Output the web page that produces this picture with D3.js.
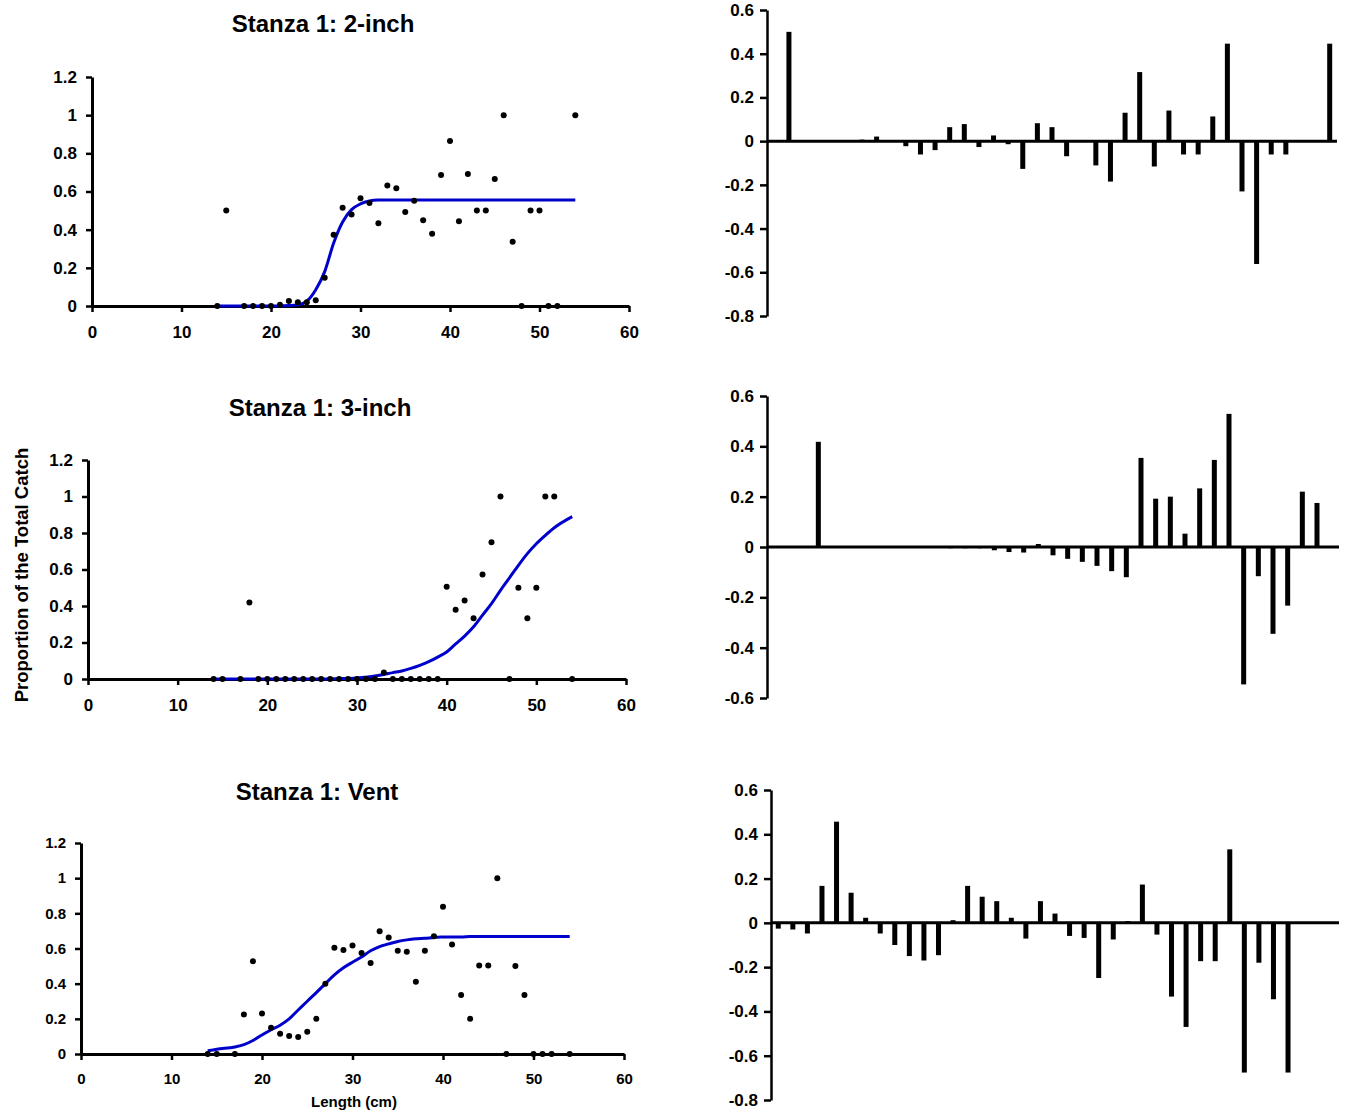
<!DOCTYPE html>
<html>
<head>
<meta charset="utf-8">
<script src="https://cdn.jsdelivr.net/npm/d3@7"></script>
<style>
  body { margin: 0; background: #fff; }
  svg { display: block; font-family: "Liberation Sans", Arial, sans-serif; font-weight: bold; }
</style>
</head>
<body>
<div id="chart"></div>
<script>
// lengths (cm) - 16 and 53 have no rows
const lengths = [14, 15, 17, 18, 19, 20, 21, 22, 23, 24, 25, 26, 27, 28, 29, 30, 31, 32, 33, 34,
  35, 36, 37, 38, 39, 40, 41, 42, 43, 44, 45, 46, 47, 48, 49, 50, 51, 52, 54];

// 2-inch
const obs2in = [0, 0.5, 0, 0, 0, 0, 0.007, 0.026, 0.02, 0.02, 0.03, 0.148, 0.374, 0.515, 0.48, 0.564, 0.54, 0.433, 0.632, 0.617,
  0.493, 0.552, 0.449, 0.379, 0.686, 0.865, 0.444, 0.692, 0.5, 0.5, 0.666, 1, 0.337, 0, 0.5, 0.5, 0, 0, 1];
const fit2in = [0, 0, 0, 0, 0, 0, 0, 0.002, 0.006, 0.025, 0.085, 0.18, 0.33, 0.44, 0.505, 0.535, 0.55, 0.555, 0.556, 0.556,
  0.556, 0.556, 0.556, 0.556, 0.556, 0.556, 0.556, 0.556, 0.556, 0.556, 0.556, 0.556, 0.556, 0.556, 0.556, 0.556, 0.556, 0.556, 0.556];
const res2in = [0, 0.5, 0, 0, 0, 0, 0.007, 0.021, 0, -0.023, -0.061, -0.041, 0.064, 0.078, -0.027, 0.026, -0.014, -0.127, 0.082, 0.064,
  -0.069, -0.004, -0.111, -0.185, 0.13, 0.316, -0.116, 0.14, -0.061, -0.061, 0.113, 0.446, -0.23, -0.562, -0.061, -0.061, null, null, 0.446];

// 3-inch
const obs3in = [0, 0, 0, 0.419, 0, 0, 0, 0, 0, 0, 0, 0, 0, 0, 0, 0, 0, 0, 0.036, 0,
  0, 0, 0, 0, 0, 0.505, 0.379, 0.43, 0.333, 0.572, 0.75, 1, 0, 0.5, 0.333, 0.5, 1, 1, 0];
const fit3in = [0, 0, 0, 0, 0, 0, 0, 0, 0, 0, 0, 0, 0.001, 0.002, 0.003, 0.005, 0.01, 0.016, 0.025, 0.035,
  0.044, 0.058, 0.075, 0.095, 0.12, 0.148, 0.192, 0.235, 0.286, 0.35, 0.413, 0.486, 0.554, 0.623, 0.687, 0.741, 0.787, 0.829, 0.89];
const res3in = [null, null, null, 0.418, null, null, null, null, null, null, null, null, -0.005, -0.005, -0.005, -0.013, -0.02, -0.022, 0.012, -0.033,
  -0.047, -0.059, -0.075, -0.096, -0.12, 0.354, 0.192, 0.2, 0.053, 0.233, 0.346, 0.529, -0.546, -0.116, -0.345, -0.233, 0.22, 0.175, null];

// Vent
const obsVent = [0, 0, 0, 0.225, 0.528, 0.23, 0.149, 0.115, 0.102, 0.096, 0.126, 0.2, 0.4, 0.604, 0.592, 0.617, 0.575, 0.517, 0.698, 0.662,
  0.587, 0.581, 0.411, 0.587, 0.67, 0.838, 0.623, 0.336, 0.2, 0.504, 0.504, 1, 0, 0.5, 0.336, 0, 0, 0, 0];
const fitVent = [0.018, 0.027, 0.04, 0.053, 0.077, 0.108, 0.138, 0.164, 0.2, 0.25, 0.3, 0.349, 0.4, 0.45, 0.49, 0.522, 0.552, 0.587, 0.611, 0.626,
  0.64, 0.649, 0.655, 0.658, 0.663, 0.665, 0.666, 0.666, 0.668, 0.668, 0.668, 0.668, 0.668, 0.668, 0.668, 0.668, 0.668, 0.668, 0.668];
const resVent = [-0.026, -0.03, -0.048, 0.167, 0.457, 0.136, 0.023, -0.048, -0.1, -0.15, -0.17, -0.146, 0.012, 0.167, 0.118, 0.098, 0.023, -0.071, 0.098, 0.042,
  -0.059, -0.068, -0.249, -0.075, 0.008, 0.173, -0.053, -0.333, -0.47, -0.173, -0.173, 0.332, -0.676, -0.18, -0.345, -0.676, null, null, null];

const xTicks = [0, 10, 20, 30, 40, 50, 60];
const yTicks = [0, 0.2, 0.4, 0.6, 0.8, 1, 1.2];

const W = 1348, H = 1113;
const svg = d3.select('#chart').append('svg').attr('width', W).attr('height', H);

const fmt = d => String(+d.toFixed(1));

function fitPanel(cfg, title, obs, fit) {
  const g = svg.append('g');
  const x = d3.scaleLinear().domain([0, 60]).range([cfg.x0, cfg.x1]);
  const y = d3.scaleLinear().domain([0, 1.2]).range([cfg.yBot, cfg.yTop]);

  const xa = g.append('g').attr('transform', `translate(0,${cfg.yBot})`)
    .call(d3.axisBottom(x).tickValues(xTicks).tickFormat(fmt).tickSize(6).tickSizeOuter(0).tickPadding(cfg.xPad));
  const ya = g.append('g').attr('transform', `translate(${cfg.x0},0)`)
    .call(d3.axisLeft(y).tickValues(yTicks).tickFormat(fmt).tickSize(6).tickSizeOuter(0).tickPadding(9));
  [xa, ya].forEach(a => {
    a.select('.domain').attr('stroke', '#000').attr('stroke-width', 3);
    a.selectAll('.tick line').attr('stroke', '#000').attr('stroke-width', 2.5);
    a.selectAll('text').attr('fill', '#000').style('font-size', cfg.font + 'px').style('font-weight', 'bold');
  });

  const pts = lengths.map((l, i) => ({ l, o: obs[i], f: fit[i] }));
  g.append('path').datum(pts)
    .attr('fill', 'none').attr('stroke', '#0000cc').attr('stroke-width', 3)
    .attr('d', d3.line().x(d => x(d.l)).y(d => y(d.f)).curve(d3.curveMonotoneX));

  g.selectAll('circle').data(pts).enter().append('circle')
    .attr('cx', d => x(d.l)).attr('cy', d => y(d.o)).attr('r', 3).attr('fill', '#000');

  g.append('text').attr('x', cfg.tx).attr('y', cfg.ty).attr('text-anchor', 'middle')
    .attr('dominant-baseline', 'central').style('font-size', '24px').text(title);
}

function resPanel(cfg, res) {
  const g = svg.append('g');
  const x = d3.scaleBand().domain(lengths).range([cfg.x0, cfg.x1]);
  const y = d3.scaleLinear().domain(cfg.dom).range([cfg.yBot, cfg.yTop]);
  const ticks = d3.range(Math.round(cfg.dom[0] * 5), Math.round(cfg.dom[1] * 5) + 1).map(v => v / 5);

  const ya = g.append('g').attr('transform', `translate(${cfg.x0},0)`)
    .call(d3.axisLeft(y).tickValues(ticks).tickFormat(fmt).tickSize(7).tickSizeOuter(0).tickPadding(6));
  ya.select('.domain').attr('stroke', '#000').attr('stroke-width', 2.5);
  ya.selectAll('.tick line').attr('stroke', '#000').attr('stroke-width', 2.5);
  ya.selectAll('text').attr('fill', '#000').style('font-size', '17px').style('font-weight', 'bold');

  const bw = 5;
  g.selectAll('rect').data(lengths.map((l, i) => ({ l, v: res[i] })).filter(d => d.v != null))
    .enter().append('rect')
    .attr('x', d => x(d.l) + x.bandwidth() / 2 - bw / 2)
    .attr('width', bw)
    .attr('y', d => Math.min(y(d.v), y(0)))
    .attr('height', d => Math.abs(y(d.v) - y(0)))
    .attr('fill', '#000');

  g.append('line').attr('x1', cfg.x0).attr('x2', cfg.x1).attr('y1', y(0)).attr('y2', y(0))
    .attr('stroke', '#000').attr('stroke-width', 3);
}

fitPanel({ x0: 92, x1: 629, yTop: 77, yBot: 306, xPad: 14, font: 17, tx: 323, ty: 23 }, 'Stanza 1: 2-inch', obs2in, fit2in);
fitPanel({ x0: 88, x1: 626, yTop: 460, yBot: 679, xPad: 14, font: 17, tx: 320, ty: 407 }, 'Stanza 1: 3-inch', obs3in, fit3in);
fitPanel({ x0: 81, x1: 624, yTop: 843, yBot: 1054, xPad: 13, font: 15, tx: 317, ty: 791 }, 'Stanza 1: Vent', obsVent, fitVent);

resPanel({ x0: 767, x1: 1337, yTop: 10, yBot: 316, dom: [-0.8, 0.6] }, res2in);
resPanel({ x0: 767, x1: 1339, yTop: 396, yBot: 698, dom: [-0.6, 0.6] }, res3in);
resPanel({ x0: 771, x1: 1339, yTop: 790, yBot: 1100, dom: [-0.8, 0.6] }, resVent);

svg.append('text').attr('transform', 'translate(21,575) rotate(-90)')
  .attr('text-anchor', 'middle').attr('dominant-baseline', 'central')
  .style('font-size', '18.5px').text('Proportion of the Total Catch');
svg.append('text').attr('x', 354).attr('y', 1101)
  .attr('text-anchor', 'middle').attr('dominant-baseline', 'central')
  .style('font-size', '15px').text('Length (cm)');
</script>
</body>
</html>
